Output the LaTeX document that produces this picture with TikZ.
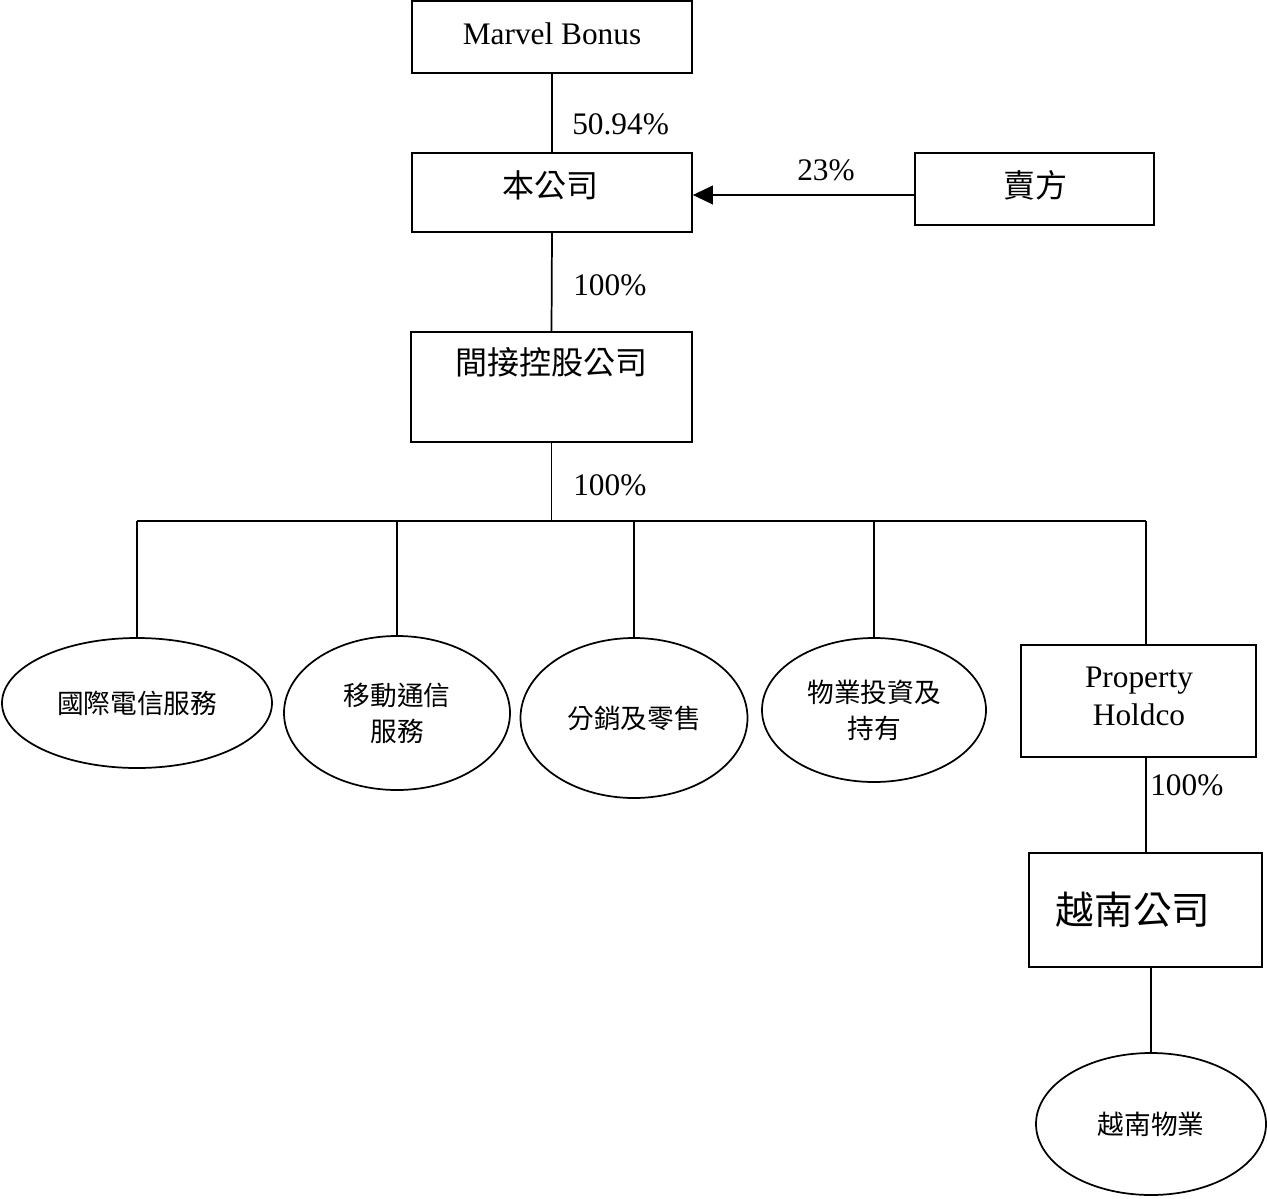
\documentclass[tikz,border=0pt]{standalone}
\usepackage{fontspec}
\setmainfont{Liberation Serif}
\newfontfamily\cjk{Noto Sans CJK TC}
\usetikzlibrary{shapes.geometric,arrows.meta}
\begin{document}
\begin{tikzpicture}[x=0.75pt,y=-0.75pt,
 box/.style={draw,line width=1.3pt,inner sep=0},
 oval/.style={draw,ellipse,line width=1.3pt,inner sep=0,align=center,font=\cjk\fontsize{20}{27}\selectfont},
 lat/.style={font=\fontsize{23.5}{29}\selectfont,inner sep=0,align=center},
 pct/.style={font=\fontsize{23.5}{28}\selectfont,inner sep=0,anchor=west},
 zh/.style={font=\cjk\fontsize{24}{28}\selectfont,inner sep=0},
 conn/.style={line width=1.3pt}]
\useasboundingbox (0,0) rectangle (1267,1199);
% boxes
\node[box,minimum width=210pt,minimum height=54pt] (mb) at (552,37) {};
\node[box,minimum width=210pt,minimum height=59.25pt] (co) at (552,192.5) {};
\node[box,minimum width=179.25pt,minimum height=54pt] (sell) at (1034.5,189) {};
\node[box,minimum width=210.75pt,minimum height=82.5pt] (ih) at (551.5,387) {};
\node[box,minimum width=176.25pt,minimum height=84pt] (ph) at (1138.5,701) {};
\node[box,minimum width=174.75pt,minimum height=85.5pt] (vn) at (1145.5,910) {};
% box texts
\node[lat] (tmb) at (552,34) {Marvel Bonus};
\node[zh] (tco) at (550,185) {本公司};
\node[zh] (tsell) at (1035,185) {賣方};
\node[zh] (tih) at (551,362) {間接控股公司};
\node[lat] (tph) at (1139,696.5) {Property\\Holdco};
\node[zh,font=\cjk\fontsize{29}{32}\selectfont] (tvn) at (1133,910) {越南公司};
% ellipses
\node[oval,minimum width=202.5pt,minimum height=97.5pt] (e1) at (137,703) {國際電信服務};
\node[oval,minimum width=169.5pt,minimum height=115.5pt] (e2) at (397,713) {移動通信\\服務};
\node[oval,minimum width=170.25pt,minimum height=120pt] (e3) at (634,718) {分銷及零售};
\node[oval,minimum width=168pt,minimum height=108pt] (e4) at (874,710) {物業投資及\\持有};
\node[oval,minimum width=172.5pt,minimum height=106.5pt] (e5) at (1151,1124) {越南物業};
% coordinates
\coordinate (ar) at (0,195);
\coordinate (bar) at (0,521);
\coordinate (bl) at (137,521);
\coordinate (br) at (1146,521);
% connectors
\draw[conn] (mb.south) -- (co.north);
\draw[conn,-{Triangle[length=15pt,width=14pt]}] (sell.west |- ar) -- (co.east |- ar);
\draw[conn] (co.south) -- (ih.north);
\draw[conn] (ih.south) -- (ih.south |- bar);
\draw[conn] (bl) -- (br);
\draw[conn] (e1.north |- bar) -- (e1.north);
\draw[conn] (e2.north |- bar) -- (e2.north);
\draw[conn] (e3.north |- bar) -- (e3.north);
\draw[conn] (e4.north |- bar) -- (e4.north);
\draw[conn] (br) -- (br |- ph.north);
\draw[conn] (ph.south -| br) -- (vn.north -| br);
\draw[conn] (e5.north |- vn.south) -- (e5.north);
% percentages
\node[pct] (p1) at (572,124) {50.94\%};
\node[pct,anchor=center] (p2) at (826,170) {23\%};
\node[pct] (p3) at (573,285) {100\%};
\node[pct] (p4) at (573,485) {100\%};
\node[pct] (p5) at (1150,785) {100\%};
\end{tikzpicture}
\end{document}
